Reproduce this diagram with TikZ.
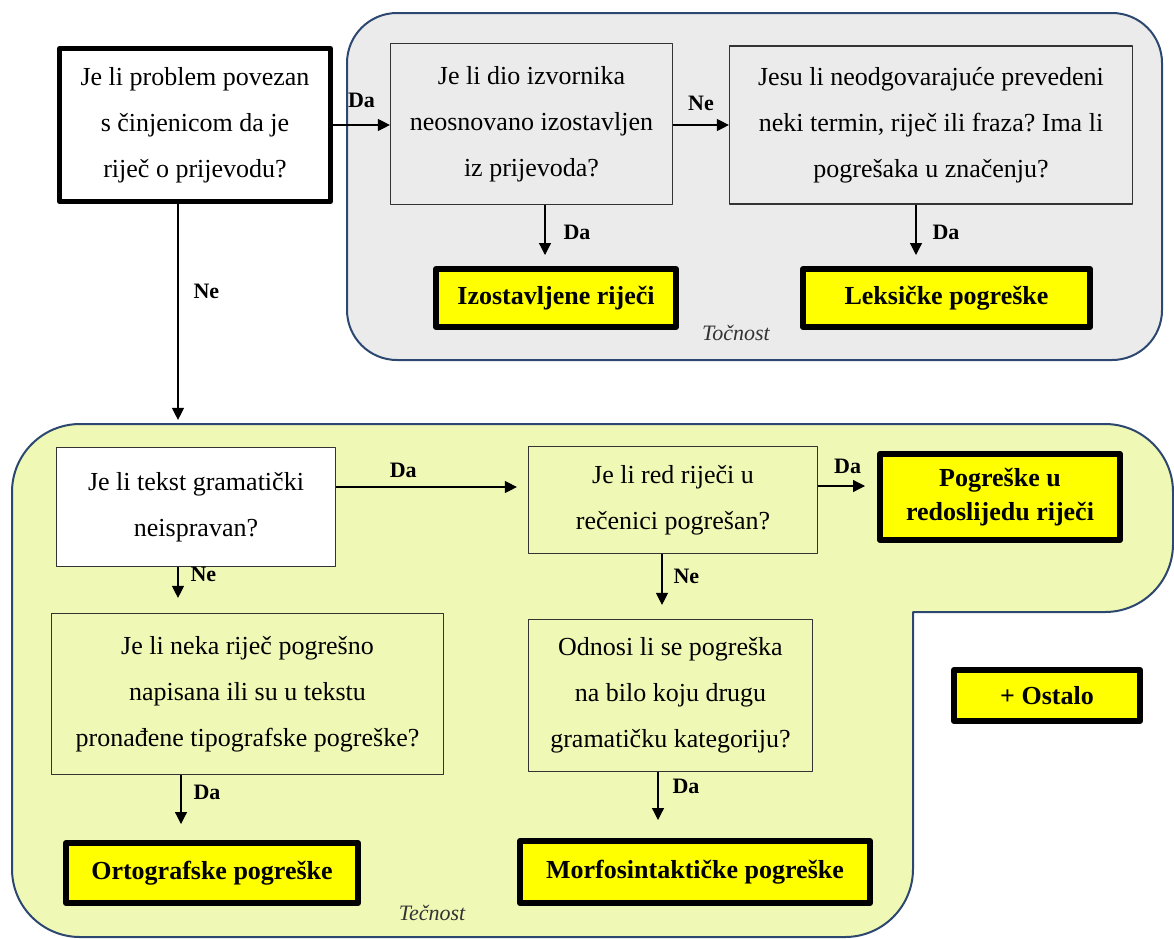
\documentclass[tikz,border=0pt]{standalone}
\usepackage{fontspec}
\setmainfont{Liberation Serif}
\usetikzlibrary{arrows.meta}
\definecolor{edge}{HTML}{2C4770}
\definecolor{grey}{HTML}{EBEBEB}
\definecolor{pale}{HTML}{F0F8B6}
\definecolor{yes}{HTML}{FFFF00}
\definecolor{qline}{HTML}{333333}
\frenchspacing
\begin{document}
\begin{tikzpicture}[x=1pt,y=-1pt,>={Triangle[length=12pt,width=12pt]},line join=round,
	ask/.style={draw=qline,line width=1.2pt,inner sep=0pt,align=center,font=\fontsize{26}{46}\selectfont},
	key/.style={ask,draw=black,line width=5pt,fill=white},
	hit/.style={draw=black,line width=6pt,fill=yes,inner sep=0pt,align=center,font=\fontsize{26}{34}\selectfont\bfseries},
	lab/.style={inner sep=0pt,font=\fontsize{22}{26}\selectfont\bfseries},
	tag/.style={inner sep=0pt,text=qline,font=\fontsize{22}{26}\selectfont\itshape},
	area/.style={draw=edge,line width=2pt},
	go/.style={->,line width=1.2pt}]
	\useasboundingbox (0,0) rectangle (1174,938);
	% the two regions
	\draw[area,fill=grey,rounded corners=50] (347,13) rectangle (1162,360);
	\draw[area,fill=pale,rounded corners=68]
	(12,680) -- (12,424) -- (1173,424) -- (1173,612) [sharp corners] -- (913,612)
	[rounded corners=68] -- (913,937) -- (12,937) -- cycle;
	% questions
	\node[key,minimum width=271,minimum height=153] (prob) at (195,125) {Je li problem povezan\\s činjenicom da je\\riječ o prijevodu?};
	\node[ask,fill=grey,minimum width=282,minimum height=161] (dio) at (531.5,124) {Je li dio izvornika\\neosnovano izostavljen\\iz prijevoda?};
	\node[ask,fill=grey,minimum width=403,minimum height=158] (znac) at (931,125) {Jesu li neodgovarajuće prevedeni\\neki termin, riječ ili fraza? Ima li\\pogrešaka u značenju?};
	\node[ask,fill=white,minimum width=279,minimum height=119] (gram) at (196,507) {Je li tekst gramatički\\neispravan?};
	\node[ask,minimum width=289,minimum height=107] (red) at (673,500) {Je li red riječi u\\rečenici pogrešan?};
	\node[ask,minimum width=392,minimum height=161] (tip) at (247.5,694) {Je li neka riječ pogrešno\\napisana ili su u tekstu\\pronađene tipografske pogreške?};
	\node[ask,minimum width=284,minimum height=152] (kat) at (670.5,695.5) {Odnosi li se pogreška\\na bilo koju drugu\\gramatičku kategoriju?};
	% results
	\node[hit,minimum width=240,minimum height=58] (izost) at (556,298) {Izostavljene riječi};
	\node[hit,minimum width=287,minimum height=58] (leks) at (946.5,298) {Leksičke pogreške};
	\node[hit,minimum width=240,minimum height=86] (redosl) at (1000,497) {Pogreške u\\redoslijedu riječi};
	\node[hit,minimum width=292,minimum height=60] (orto) at (212,873) {Ortografske pogreške};
	\node[hit,minimum width=350,minimum height=62] (morf) at (695,872) {Morfosintaktičke pogreške};
	\node[hit,minimum width=186,minimum height=51] (ostalo) at (1047,695.5) {+ Ostalo};
	\node[tag] (tocnost) at (736,333) {Točnost};
	\node[tag] (tecnost) at (432,913) {Tečnost};
	% where the arrows run
	\coordinate (c3) at (545,0);
	\coordinate (c4) at (916,0);
	\coordinate (c5) at (178,0);
	\coordinate (c6) at (0,487);
	\coordinate (c7) at (0,486);
	\coordinate (c9) at (181,0);
	\coordinate (c10) at (662,0);
	\coordinate (c11) at (658,0);
	\coordinate (c12) at (0,125);
	\draw[go] (prob.east |- c12) -- (dio.west |- c12) node[lab,midway,above=17pt]{Da};
	\draw[go] (dio.east |- c12) -- (znac.west |- c12) node[lab,midway,above=14pt]{Ne};
	\draw[go,shorten >=11pt] (dio.south -| c3) -- (izost.north -| c3) node[lab,pos=.45,right=18pt]{Da};
	\draw[go,shorten >=11pt] (znac.south -| c4) -- (leks.north -| c4) node[lab,pos=.45,right=16pt]{Da};
	\draw[go,shorten >=27pt] (prob.south -| c5) -- (gram.north -| c5) node[lab,pos=.36,right=15pt]{Ne};
	\draw[go,shorten >=11pt] (gram.east |- c6) -- (red.west |- c6) node[lab,pos=.35,above=9pt]{Da};
	\draw[go,shorten >=12pt] (red.east |- c7) -- (redosl.west |- c7) node[lab,midway,above=12pt]{Da};
	\draw[go,shorten >=15pt] (gram.south -| c5) -- (tip.north -| c5) node[lab,pos=.15,right=12pt]{Ne};
	\draw[go,shorten >=16pt] (tip.south -| c9) -- (orto.north -| c9) node[lab,pos=.26,right=12pt]{Da};
	\draw[go,shorten >=14pt] (red.south -| c10) -- (kat.north -| c10) node[lab,pos=.34,right=11pt]{Ne};
	\draw[go,shorten >=18pt] (kat.south -| c11) -- (morf.north -| c11) node[lab,pos=.22,right=14pt]{Da};
\end{tikzpicture}
\end{document}
